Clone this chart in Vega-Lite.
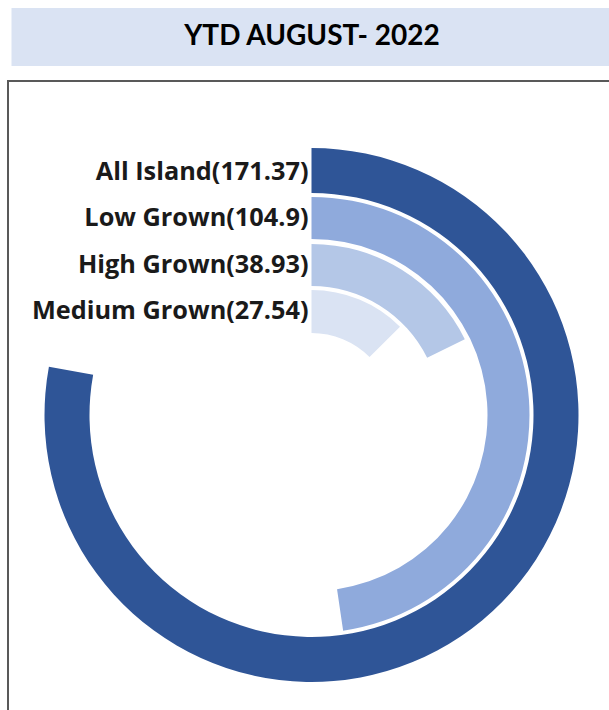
{
  "$schema": "https://vega.github.io/schema/vega-lite/v6.json",
  "padding": {"top": 8, "left": 7, "right": 0, "bottom": 0},
  "background": "white",
  "datasets": {
    "tea": [
      {"region": "All Island", "value": 171.37},
      {"region": "Low Grown", "value": 104.9},
      {"region": "High Grown", "value": 38.93},
      {"region": "Medium Grown", "value": 27.54}
    ]
  },
  "config": {"view": {"stroke": null}},
  "spacing": 14,
  "center": true,
  "vconcat": [
    {
      "width": 601,
      "height": 58,
      "view": {"fill": "#DAE3F3", "stroke": null},
      "data": {"values": [{"title": "YTD AUGUST- 2022"}]},
      "mark": {"type": "text", "font": "Lato", "fontWeight": "bold", "fontSize": 28, "color": "#000000", "baseline": "middle", "align": "center"},
      "encoding": {"text": {"field": "title", "type": "nominal"}}
    },
    {
      "width": 607,
      "height": 668,
      "view": {"stroke": "#595959", "strokeWidth": 2, "fill": "white"},
      "data": {"name": "tea"},
      "layer": [
        {
          "transform": [{"filter": "datum.region === 'All Island'"}],
          "mark": {"type": "arc", "radius": 267, "radius2": 222, "color": "#2F5597"},
          "encoding": {
            "theta": {"field": "value", "type": "quantitative", "scale": {"domain": [0, 220], "range": [0, 6.2832]}, "stack": null},
            "theta2": {"datum": 0}
          }
        },
        {
          "transform": [{"filter": "datum.region === 'Low Grown'"}],
          "mark": {"type": "arc", "radius": 218, "radius2": 176, "color": "#8FAADC"},
          "encoding": {
            "theta": {"field": "value", "type": "quantitative", "scale": {"domain": [0, 220], "range": [0, 6.2832]}, "stack": null},
            "theta2": {"datum": 0}
          }
        },
        {
          "transform": [{"filter": "datum.region === 'High Grown'"}],
          "mark": {"type": "arc", "radius": 171, "radius2": 129, "color": "#B4C7E7"},
          "encoding": {
            "theta": {"field": "value", "type": "quantitative", "scale": {"domain": [0, 220], "range": [0, 6.2832]}, "stack": null},
            "theta2": {"datum": 0}
          }
        },
        {
          "transform": [{"filter": "datum.region === 'Medium Grown'"}],
          "mark": {"type": "arc", "radius": 125, "radius2": 82, "color": "#DAE3F3"},
          "encoding": {
            "theta": {"field": "value", "type": "quantitative", "scale": {"domain": [0, 220], "range": [0, 6.2832]}, "stack": null},
            "theta2": {"datum": 0}
          }
        },
        {
          "transform": [{"calculate": "datum.region + '(' + datum.value + ')'", "as": "label"}],
          "mark": {"type": "text", "align": "right", "baseline": "middle", "dx": -3, "font": "Open Sans", "fontWeight": "bold", "fontSize": 25.3, "color": "#1a1a1a", "theta": 0},
          "encoding": {
            "text": {"field": "label", "type": "nominal"},
            "radius": {"field": "region", "type": "nominal", "scale": {"type": "point", "domain": ["All Island", "Low Grown", "High Grown", "Medium Grown"], "range": [243, 104], "padding": 0}, "legend": null}
          }
        }
      ]
    }
  ]
}
